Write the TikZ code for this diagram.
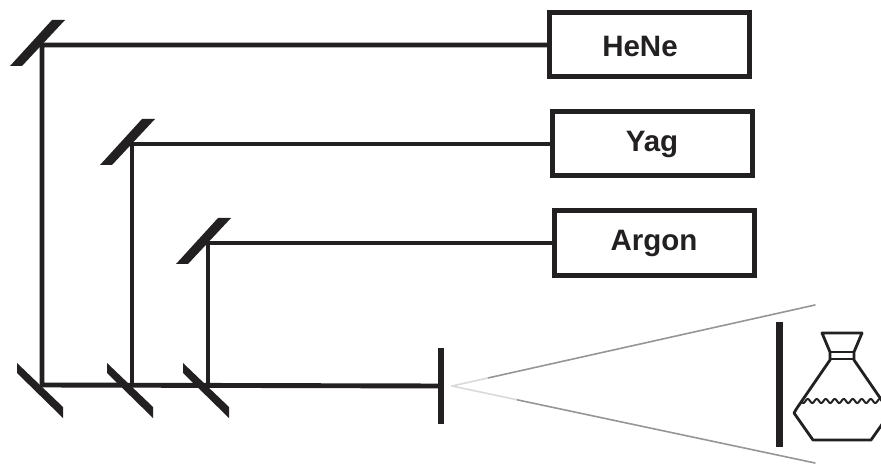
\documentclass[tikz,border=0pt]{standalone}
\usepackage{fontspec}
\setmainfont{Liberation Sans}
\usetikzlibrary{calc}
\definecolor{ink}{RGB}{35,32,33}
\definecolor{haze}{RGB}{150,150,150}
\begin{document}
\begin{tikzpicture}[x=1pt,y=-1pt,
  beam/.style={draw=ink,line width=4.9pt,line join=miter},
  laser/.style={draw=ink,line width=5pt,minimum width=200pt,minimum height=64pt,
    inner sep=0pt,font=\fontsize{29.5}{34}\selectfont\bfseries,text=ink},
  bar/.style={fill=ink,draw=none,inner sep=0pt},
  cone/.style={draw=haze,line width=1.6pt,line cap=round},
  vaseline/.style={draw=ink,line width=2.8pt,line join=round},
  foldmirror/.pic={\fill[ink] (-32,21) -- (-20,21) -- (23,-25) -- (10,-25) -- cycle;},
  splitmirror/.pic={\fill[ink] (-25,-22) -- (21,22) -- (21,33) -- (-25,-12) -- cycle;}
]
\useasboundingbox (0,0) rectangle (881,465);
\fill[white] (0,0) rectangle (881,465);

% lasers
\node[laser] (hene)  at (649.5,45) {};
\node[ink,font=\fontsize{29.5}{34}\selectfont\bfseries] (henetext) at (640,46) {HeNe};
\node[laser] (yag)   at (652,144) {Yag};
\node[laser] (argon) at (654,243) {Argon};

% beam corners
\coordinate (j1t) at (42,45);
\coordinate (j1b) at (42,385);
\coordinate (j2t) at (132,144);
\coordinate (j2b) at (132,385);
\coordinate (j3t) at (208,243);
\coordinate (j3b) at (208,385);

% end mirror and screen
\node[bar,minimum width=6.7pt,minimum height=76pt] (endmirror) at (441,386) {};
\node[bar,minimum width=7pt,minimum height=125pt] (screen) at (779,384.5) {};

% beams
\draw[beam] (hene.west) -- (j1t) -- (j1b) -- (endmirror.center);
\draw[beam] (yag.west) -- (j2t) -- (j2b);
\draw[beam] (argon.west) -- (j3t) -- (j3b);

% mirrors
\pic at (j1t) {foldmirror};
\pic at (j2t) {foldmirror};
\pic at (j3t) {foldmirror};
\pic at (j1b) {splitmirror};
\pic at (j2b) {splitmirror};
\pic at (j3b) {splitmirror};

% diverging light
\coordinate (apex) at (452,386);
\coordinate (upper) at (815,305);
\coordinate (lower) at (815,463);
\draw[cone,draw=haze!35] (apex) -- ($(apex)!0.1!(upper)$);
\draw[cone] ($(apex)!0.1!(upper)$) -- (upper);
\draw[cone,draw=haze!35] (apex) -- ($(apex)!0.18!(lower)$);
\draw[cone] ($(apex)!0.18!(lower)$) -- (lower);

% vase
\begin{scope}
\clip (780,300) rectangle (881,465);
\draw[vaseline] (822,333) -- (862,333) -- (854,352) -- (854,360) -- (887,408)
  -- (890,413) -- (871,440) -- (813,440) -- (794,413) -- (797,408)
  -- (830,360) -- (830,352) -- cycle;
\draw[vaseline] (830,352) -- (854,352);
\draw[vaseline] (830,359) -- (854,359);
\draw[ink,line width=2pt] plot[domain=801:884,samples=120] (\x,{401+2*sin((\x-801)*40)});
\end{scope}
\end{tikzpicture}
\end{document}
